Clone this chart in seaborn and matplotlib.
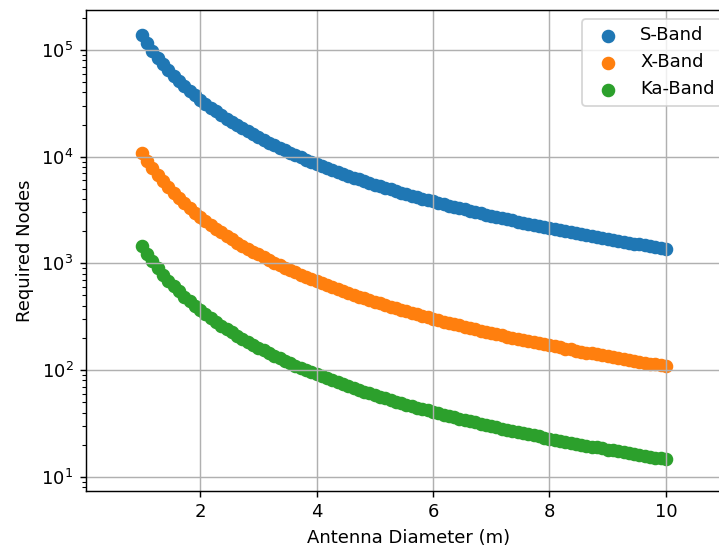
import matplotlib
matplotlib.use("Agg")
import matplotlib.pyplot as plt
import seaborn as sns
import pandas as pd

# Antenna diameter (m), 100 samples between 1 and 10
diameter = [
    1.0, 1.091, 1.182, 1.273, 1.364, 1.455, 1.545, 1.636, 1.727, 1.818, 1.909,
    2.0, 2.091, 2.182, 2.273, 2.364, 2.455, 2.545, 2.636, 2.727, 2.818, 2.909,
    3.0, 3.091, 3.182, 3.273, 3.364, 3.455, 3.545, 3.636, 3.727, 3.818, 3.909,
    4.0, 4.091, 4.182, 4.273, 4.364, 4.455, 4.545, 4.636, 4.727, 4.818, 4.909,
    5.0, 5.091, 5.182, 5.273, 5.364, 5.455, 5.545, 5.636, 5.727, 5.818, 5.909,
    6.0, 6.091, 6.182, 6.273, 6.364, 6.455, 6.545, 6.636, 6.727, 6.818, 6.909,
    7.0, 7.091, 7.182, 7.273, 7.364, 7.455, 7.545, 7.636, 7.727, 7.818, 7.909,
    8.0, 8.091, 8.182, 8.273, 8.364, 8.455, 8.545, 8.636, 8.727, 8.818, 8.909,
    9.0, 9.091, 9.182, 9.273, 9.364, 9.455, 9.545, 9.636, 9.727, 9.818, 9.909,
    10.0,
]

s_band = [
    137000, 115100, 98090, 84580, 73680, 64750, 57360, 51160, 45920, 41440, 37590,
    34250, 31340, 28780, 26520, 24520, 22740, 21140, 19710, 18420, 17250, 16190,
    15220, 14340, 13530, 12790, 12110, 11480, 10900, 10360, 9861, 9397, 8965,
    8563, 8186, 7834, 7505, 7195, 6905, 6631, 6373, 6131, 5902, 5686,
    5480, 5285, 5102, 4928, 4762, 4604, 4455, 4313, 4177, 4047, 3924,
    3806, 3692, 3585, 3481, 3383, 3288, 3198, 3111, 3028, 2947, 2870,
    2796, 2725, 2656, 2591, 2526, 2466, 2406, 2350, 2295, 2241, 2191,
    2141, 2093, 2047, 2002, 1959, 1917, 1876, 1837, 1799, 1762, 1726,
    1691, 1658, 1625, 1593, 1563, 1533, 1504, 1475, 1448, 1421, 1395,
    1370,
]

x_band = [
    10900, 9159, 7804, 6729, 5862, 5152, 4564, 4071, 3653, 3297, 2991,
    2725, 2493, 2290, 2110, 1951, 1809, 1682, 1568, 1465, 1372, 1288,
    1211, 1141, 1077, 1018, 963, 913, 867, 824, 785, 748, 713,
    681, 651, 623, 597, 572, 549, 528, 507, 488, 470, 452,
    436, 421, 406, 392, 379, 366, 354, 343, 332, 322, 312,
    303, 294, 285, 277, 269, 262, 254, 248, 241, 234, 228,
    222, 217, 211, 206, 201, 196, 191, 187, 183, 178, 174,
    170, 167, 163, 159, 156, 152, 149, 146, 143, 140, 137,
    135, 132, 129, 127, 124, 122, 120, 117, 115, 113, 111,
    109,
]

ka_band = [
    1460, 1227, 1045, 901, 785, 690, 611, 545, 489, 442, 401,
    365, 334, 307, 283, 261, 242, 225, 210, 196, 184, 173,
    162, 153, 144, 136, 129, 122, 116, 110, 105, 100, 95.5,
    91.3, 87.2, 83.5, 80.0, 76.7, 73.6, 70.7, 67.9, 65.3, 62.9, 60.6,
    58.4, 56.3, 54.4, 52.5, 50.7, 49.1, 47.5, 46.0, 44.5, 43.1, 41.8,
    40.6, 39.3, 38.2, 37.1, 36.0, 35.0, 34.1, 33.2, 32.3, 31.4, 30.6,
    29.8, 29.0, 28.3, 27.6, 26.9, 26.3, 25.6, 25.0, 24.5, 23.9, 23.3,
    22.8, 22.3, 21.8, 21.3, 20.9, 20.4, 20.0, 19.6, 19.2, 18.8, 18.4,
    18.0, 17.7, 17.3, 17.0, 16.7, 16.3, 16.0, 15.7, 15.4, 15.1, 14.9,
    14.7,
]

bands = ["S-Band", "X-Band", "Ka-Band"]
colors = ["#1f77b4", "#ff7f0e", "#2ca02c"]

df = pd.DataFrame({
    "Antenna Diameter (m)": diameter * 3,
    "Required Nodes": s_band + x_band + ka_band,
    "Band": [b for b in bands for _ in diameter],
})

dpi = 130
fig = plt.figure(figsize=(719 / dpi, 548 / dpi), dpi=dpi)
ax = fig.add_axes([86 / 719, 57.3 / 548, 645 / 719, 480.7 / 548])

for band, color in zip(bands, colors):
    sub = df[df["Band"] == band]
    sns.scatterplot(
        data=sub, x="Antenna Diameter (m)", y="Required Nodes",
        color=color, s=36, edgecolor="face", linewidth=1.5,
        label=band, ax=ax, legend=False,
    )

ax.set_yscale("log")
ax.set_xlim(0.04, 11.119)
ax.set_ylim(7.4, 2.37e5)
ax.set_xticks([2, 4, 6, 8, 10])
ax.grid(True)
ax.legend(loc="upper right")

fig.savefig("out.png", dpi=dpi)
